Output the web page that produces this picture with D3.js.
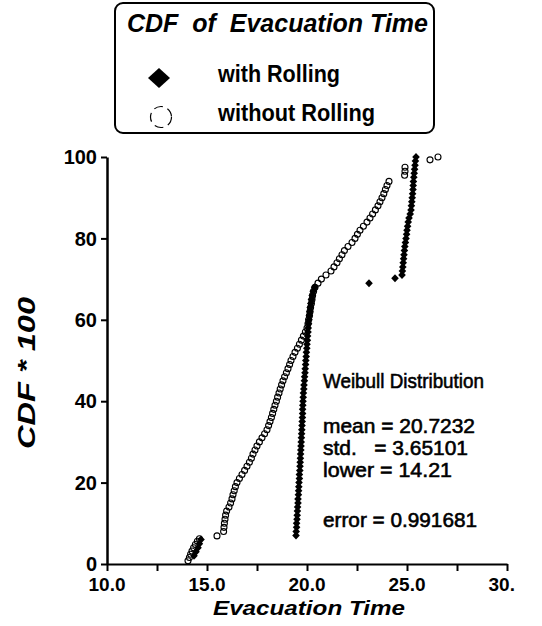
<!DOCTYPE html>
<html><head><meta charset="utf-8">
<script src="https://cdn.jsdelivr.net/npm/d3@7"></script>
<style>
html,body{margin:0;padding:0;background:#fff;}
svg{display:block;}
text{font-family:"Liberation Sans",Arial,Helvetica,sans-serif;fill:#000;}
</style></head><body>
<svg id="chart" width="542" height="626"></svg>
<script>
// ---------- data ----------
const xTickValues = [10, 12.5, 15, 17.5, 20, 22.5, 25, 27.5, 30];
const xLabelValues = [10, 15, 20, 25, 30];
const xLabels = ["10.0", "15.0", "20.0", "25.0", "30."];
const yTickValues = [0, 20, 40, 60, 80, 100];
const yLabels = ["0", "20", "40", "60", "80", "100"];
const xTitle = "Evacuation Time";
const yTitle = "CDF * 100";
const legendTitle = "CDF  of  Evacuation Time";
const seriesNames = ["with Rolling", "without Rolling"];
const statsLines = ["Weibull Distribution", "mean = 20.7232", "std.   = 3.65101", "lower = 14.21", "error = 0.991681"];

const withoutTime = [14.05,14.12,14.18,14.25,14.33,14.42,14.52,14.62,15.5,
15.83,15.85,15.87,15.9,15.93,15.98,16.1,16.18,16.25,16.3,16.36,16.42,16.5,16.62,16.75,16.88,17.0,17.12,17.22,17.3,
17.4,17.5,17.62,17.75,17.88,18.0,18.08,18.15,18.22,18.28,18.34,18.4,18.47,18.53,18.6,18.66,18.73,18.8,18.88,18.97,
19.05,19.13,19.2,19.3,19.4,19.52,19.62,19.72,19.82,19.92,20.0,20.05,20.08,20.12,20.15,20.18,20.22,20.25,20.28,20.33,
20.4,20.55,20.72,20.95,21.2,21.35,21.5,21.62,21.75,21.87,22.05,22.25,22.4,22.52,22.65,22.82,23.0,23.15,23.28,23.42,
23.55,23.65,23.75,23.84,23.92,24.0,24.1,
24.88,24.9,24.9,26.15,26.55];
const withoutCdf = [0.8,1.6,2.4,3.2,4.0,4.8,5.6,6.2,6.9,
8,9,10,11,12,13,14,15,16,17,18,19,20,21,22,23,24,25,26,27,
28,29,30,31,32,33,34,35,36,37,38,39,40,41,42,43,44,45,46,47,
48,49,50,51,52,53,54,55,56,57,58,59,60,61,62,63,64,65,66,67,
68,69,70,71,72,73,74,75,76,77,78,79,80,81,82,83,84,85,86,87,
88,89,90,91,92,93,94,
95.5,96.5,97.5,99.3,100];

const withTime = [14.35,14.45,14.55,14.62,14.7,
19.45,19.46,19.48,19.48,19.5,19.51,19.52,19.53,19.55,19.55,19.57,19.58,19.59,19.6,19.62,19.62,19.64,19.65,19.66,19.67,
19.68,19.69,19.7,19.71,19.72,19.73,19.74,19.75,19.76,19.77,19.78,19.78,19.79,19.8,19.81,19.82,19.84,19.85,19.87,19.88,
19.9,19.91,19.93,19.94,19.96,19.97,19.99,20.0,20.02,20.03,20.05,20.06,20.08,20.1,20.12,20.14,20.16,20.19,20.22,20.26,
20.31,20.38,
23.1,24.4,
24.75,24.77,24.79,24.81,24.83,24.85,24.87,24.89,24.92,24.95,24.98,25.0,25.03,25.06,25.1,25.16,25.2,25.22,25.24,25.26,
25.28,25.3,25.31,25.32,25.34,25.36,25.38,25.4,25.42,25.45];
const withCdf = [2,3,4,5,6,
7,8,9,10,11,12,13,14,15,16,17,18,19,20,21,22,23,24,25,26,
27,28,29,30,31,32,33,34,35,36,37,38,39,40,41,42,43,44,45,46,
47,48,49,50,51,52,53,54,55,56,57,58,59,60,61,62,63,64,65,66,
67,68,
69,70.2,
71,72,73,74,75,76,77,78,79,80,81,82,83,84,85,86,87,88,89,90,
91,92,93,94,95,96,97,98,99,100];

// ---------- drawing ----------
const svg = d3.select("#chart");
const x = d3.scaleLinear().domain([10, 30]).range([107, 507]);
const y = d3.scaleLinear().domain([0, 100]).range([564, 157]);

const zip = (a, b) => d3.range(Math.min(a.length, b.length)).map(i => ({t: a[i], c: b[i]}));
const withoutPts = zip(withoutTime, withoutCdf);
const withPts = zip(withTime, withCdf);

// axes
const yAxis = svg.append("g").attr("transform", "translate(107,0)")
  .call(d3.axisLeft(y).tickValues(yTickValues).tickSizeInner(6).tickSizeOuter(0).tickFormat(() => ""));
yAxis.select(".domain").attr("stroke", "#000").attr("stroke-width", 2.5);
yAxis.selectAll(".tick line").attr("stroke", "#000").attr("stroke-width", 2);

const xAxis = svg.append("g").attr("transform", "translate(0,564)")
  .call(d3.axisBottom(x).tickValues(xTickValues).tickSizeInner(7).tickSizeOuter(0).tickFormat(() => ""));
xAxis.select(".domain").attr("stroke", "#000").attr("stroke-width", 2);
xAxis.selectAll(".tick line").attr("stroke", "#000").attr("stroke-width", 2);

// tick labels
svg.append("g").selectAll("text").data(yTickValues).join("text")
  .attr("x", 97).attr("y", d => y(d)).attr("dy", "0.36em")
  .attr("text-anchor", "end").attr("font-size", 20).attr("font-weight", "bold")
  .text((d, i) => yLabels[i]);

svg.append("g").selectAll("text").data(xLabelValues).join("text")
  .attr("x", d => x(d) - 18.5).attr("y", 591)
  .attr("text-anchor", "start").attr("font-size", 19).attr("font-weight", "bold")
  .text((d, i) => xLabels[i]);

// axis titles
svg.append("text").attr("x", 213).attr("y", 615)
  .attr("font-size", 21).attr("font-weight", "bold").attr("font-style", "italic")
  .attr("textLength", 192).attr("lengthAdjust", "spacingAndGlyphs")
  .text(xTitle);

svg.append("text").attr("transform", "translate(35,373) rotate(-90)")
  .attr("text-anchor", "middle")
  .attr("font-size", 24).attr("font-weight", "bold").attr("font-style", "italic")
  .attr("textLength", 152).attr("lengthAdjust", "spacingAndGlyphs")
  .text(yTitle);

// series: without Rolling (open circles)
svg.append("g").selectAll("circle").data(withoutPts).join("circle")
  .attr("cx", d => x(d.t)).attr("cy", d => y(d.c)).attr("r", 3)
  .attr("fill", "none").attr("stroke", "#000").attr("stroke-width", 1.1);

// series: with Rolling (filled diamonds)
const diamond = (w, h) => `M0,${-h}L${w},0L0,${h}L${-w},0Z`;
svg.append("g").selectAll("path").data(withPts).join("path")
  .attr("transform", d => `translate(${x(d.t)},${y(d.c)})`)
  .attr("d", diamond(3.8, 4))
  .attr("fill", "#000");

// stats text block
const statsY = [388, 433, 455, 477, 527];
const statsW = [161, 152, 145, 129, 154];
svg.append("g").selectAll("text").data(statsLines).join("text")
  .attr("x", 323).attr("y", (d, i) => statsY[i])
  .attr("font-size", 21)
  .attr("stroke", "#000").attr("stroke-width", 0.6)
  .style("white-space", "pre")
  .attr("textLength", (d, i) => statsW[i]).attr("lengthAdjust", "spacingAndGlyphs")
  .text(d => d);

// legend
const lg = svg.append("g");
lg.append("rect").attr("x", 115).attr("y", 3).attr("width", 319).attr("height", 130)
  .attr("rx", 8).attr("fill", "#fff").attr("stroke", "#000").attr("stroke-width", 2);
lg.append("text").attr("x", 127).attr("y", 32)
  .attr("font-size", 25).attr("font-weight", "bold").attr("font-style", "italic")
  .style("white-space", "pre")
  .attr("textLength", 301).attr("lengthAdjust", "spacingAndGlyphs")
  .text(legendTitle);
lg.append("path").attr("transform", "translate(159,78)").attr("d", diamond(11, 10)).attr("fill", "#000");
lg.append("circle").attr("cx", 161).attr("cy", 117).attr("r", 10.5)
  .attr("fill", "none").attr("stroke", "#000").attr("stroke-width", 1.2)
  .attr("stroke-dasharray", "9,5");
lg.append("text").attr("x", 218).attr("y", 82)
  .attr("font-size", 23).attr("font-weight", "bold")
  .attr("textLength", 122).attr("lengthAdjust", "spacingAndGlyphs")
  .text(seriesNames[0]);
lg.append("text").attr("x", 218).attr("y", 121)
  .attr("font-size", 23).attr("font-weight", "bold")
  .attr("textLength", 157).attr("lengthAdjust", "spacingAndGlyphs")
  .text(seriesNames[1]);
</script>
</body></html>
